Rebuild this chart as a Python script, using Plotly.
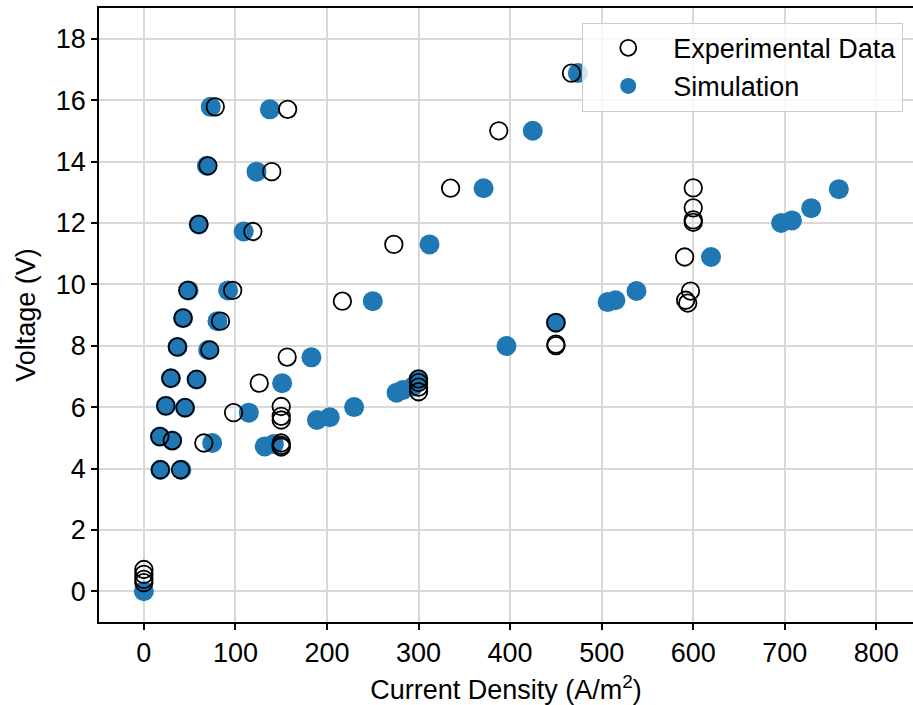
import plotly.graph_objects as go

# Experimental data (current density A/m^2, voltage V)
exp_current = [0, 0, 0, 0,
               18, 40,
               17.5, 31, 65.5,
               24, 45, 98,
               29.5, 57.5, 126,
               36.7, 72, 156.5,
               42.8, 83.7,
               48, 97,
               60, 119,
               70, 139.7,
               78, 157,
               467, 387.6, 335, 273, 216.8,
               150, 150, 150, 150, 150, 150,
               300, 300, 300, 300,
               450, 450, 450,
               600, 600, 600, 600, 590.6, 597, 591.7, 594]
exp_voltage = [0.71, 0.55, 0.39, 0.28,
               3.96, 3.96,
               5.04, 4.91, 4.83,
               6.04, 5.98, 5.82,
               6.94, 6.90, 6.78,
               7.96, 7.86, 7.63,
               8.90, 8.80,
               9.80, 9.80,
               11.95, 11.72,
               13.86, 13.67,
               15.78, 15.70,
               16.88, 15.00, 13.13, 11.30, 9.45,
               6.02, 5.70, 5.58, 4.83, 4.75, 4.70,
               6.92, 6.80, 6.65, 6.50,
               8.75, 8.05, 8.00,
               13.14, 12.49, 12.10, 12.02, 10.89, 9.78, 9.48, 9.39]

# Simulation results
sim_current = [0, 18, 41, 17.5, 31, 74.6, 24, 45, 114.6, 29.5, 57.5, 151,
               36.7, 70.2, 183, 42.8, 80.4, 48.8, 92, 60, 109, 68.8, 123,
               73, 137.6, 474, 424.7, 371, 312, 250, 132, 142, 189, 203,
               229.6, 276, 283, 294, 299.5, 450, 396, 619.4, 538, 506.5,
               515, 696, 707.8, 728.8, 759]
sim_voltage = [0.0, 3.96, 3.96, 5.04, 4.91, 4.83, 6.04, 5.98, 5.82, 6.94, 6.90, 6.78,
               7.96, 7.86, 7.62, 8.90, 8.80, 9.80, 9.80, 11.95, 11.72, 13.86, 13.67,
               15.78, 15.70, 16.88, 15.00, 13.13, 11.30, 9.45, 4.72, 4.80, 5.58, 5.67,
               6.00, 6.47, 6.56, 6.67, 6.88, 8.75, 7.99, 10.89, 9.78, 9.42,
               9.48, 12.00, 12.08, 12.48, 13.10]

x_ticks = [0, 100, 200, 300, 400, 500, 600, 700, 800]
y_ticks = [0, 2, 4, 6, 8, 10, 12, 14, 16, 18]

FONT = "Liberation Sans, Arial, sans-serif"
FS = 27

fig = go.Figure()
fig.add_trace(go.Scatter(
    x=sim_current, y=sim_voltage, mode="markers", name="Simulation",
    marker=dict(symbol="circle", size=20, color="#1f77b4", line=dict(width=0)),
    legendrank=2,
))
fig.add_trace(go.Scatter(
    x=exp_current, y=exp_voltage, mode="markers", name="Experimental Data",
    marker=dict(symbol="circle-open", size=17.5, color="black", line=dict(width=1.8, color="black")),
    legendrank=1,
))

axis_common = dict(
    showgrid=True, gridcolor="#d9d9d9", gridwidth=1.5,
    showline=True, linecolor="black", linewidth=1.8,
    ticks="outside", ticklen=6, tickwidth=1.5, tickcolor="black",
    zeroline=False, automargin=False,
    tickfont=dict(family=FONT, size=FS, color="black"),
)

fig.update_layout(
    width=913, height=705,
    margin=dict(l=99, r=0, t=8, b=83),
    paper_bgcolor="white", plot_bgcolor="white",
    font=dict(family=FONT, size=FS, color="black"),
    showlegend=True,
    legend=dict(
        x=0.988, y=0.976, xanchor="right", yanchor="top",
        bgcolor="rgba(255,255,255,0.8)", bordercolor="#cccccc", borderwidth=1,
        font=dict(family=FONT, size=FS, color="black"),
        itemwidth=80,
    ),
    xaxis=dict(
        range=[-49, 840], tickvals=x_ticks, ticktext=[str(v) for v in x_ticks],
        mirror=True,
        title=dict(text="Current Density (A/m<sup>2</sup>)", font=dict(family=FONT, size=FS), standoff=14),
        **axis_common,
    ),
    yaxis=dict(
        range=[-1.0, 19.0], tickvals=y_ticks, ticktext=[str(v) for v in y_ticks],
        mirror=False,
        title=dict(text="Voltage (V)", font=dict(family=FONT, size=FS), standoff=12),
        **axis_common,
    ),
)

fig.write_html(
    "out.html",
    config={"displayModeBar": False},
    post_script="document.body.style.margin='0';document.body.style.overflow='hidden';",
)
